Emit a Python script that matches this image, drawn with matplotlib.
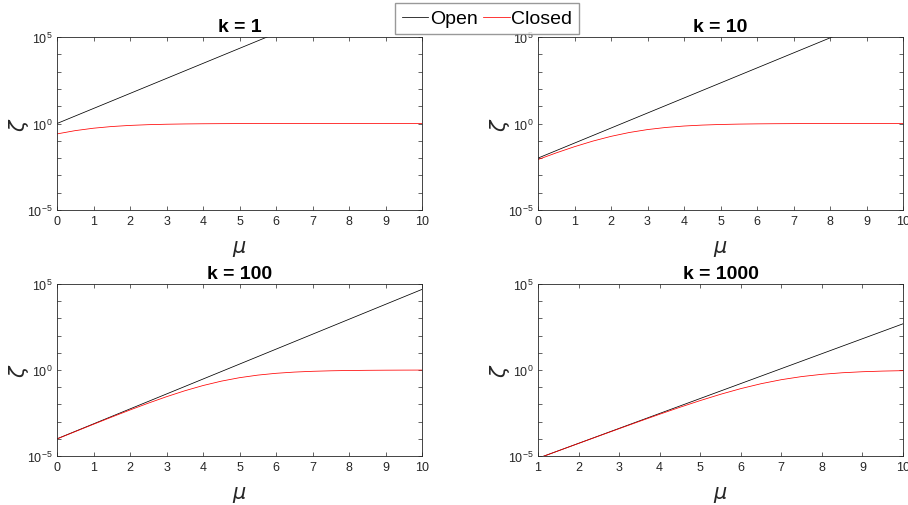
import matplotlib

matplotlib.use("Agg")
import matplotlib.pyplot as plt
from matplotlib.ticker import NullFormatter, FixedLocator

plt.rcParams["font.family"] = ["Liberation Sans", "DejaVu Sans"]

# panel titles and shared sample grids
k_values = [1, 10, 100, 1000]
mu_open = [0, 1, 2, 3, 4, 5, 6, 7, 8, 9, 10]
mu_closed = [0, 0.5, 1, 1.5, 2, 2.5, 3, 3.5, 4, 4.5, 5,
             5.5, 6, 6.5, 7, 7.5, 8, 8.5, 9, 9.5, 10]

# open-loop curves (straight lines on log axis)
open_k1 = [1, 7.389, 54.60, 403.4, 2981, 22026, 1.628e5, 1.203e6, 8.886e6, 6.566e7, 4.852e8]
open_k10 = [1e-2, 7.389e-2, 0.5460, 4.034, 29.81, 220.3, 1628, 1.203e4, 8.886e4, 6.566e5, 4.852e6]
open_k100 = [1e-4, 7.389e-4, 5.460e-3, 4.034e-2, 0.2981, 2.203, 16.28, 120.3, 888.6, 6566, 4.852e4]
open_k1000 = [1e-6, 7.389e-6, 5.460e-5, 4.034e-4, 2.981e-3, 2.203e-2, 0.1628, 1.203, 8.886, 65.66, 485.2]

# closed-loop curves (saturate at 1)
closed_k1 = [0.25, 0.3875, 0.5345, 0.6684, 0.7758, 0.8540, 0.9074, 0.9423, 0.9644, 0.9782,
             0.9867, 0.9919, 0.9951, 0.9970, 0.9982, 0.9989, 0.9993, 0.9996, 0.9998, 0.9999, 0.9999]
closed_k10 = [0.00826, 0.02003, 0.04568, 0.09578, 0.18056, 0.30161, 0.44570, 0.58993, 0.71436, 0.81003,
              0.87773, 0.92302, 0.95221, 0.97060, 0.98200, 0.98903, 0.99333, 0.99596, 0.99754, 0.99850, 0.99909]
closed_k100 = [9.803e-5, 2.631e-4, 7.003e-4, 1.840e-3, 4.734e-3, 0.011794, 0.027980, 0.061887, 0.12472, 0.22442,
               0.35695, 0.50393, 0.64218, 0.75568, 0.83984, 0.89793, 0.93614, 0.96052, 0.97577, 0.98519, 0.99098]
closed_k1000 = [3.0e-7, 1.2e-6, 7.349e-6, 1.9907e-5, 5.380e-5, 1.4487e-4, 3.877e-4, 1.0275e-3, 2.6802e-3, 6.820e-3,
                0.016700, 0.038648, 0.082633, 0.15956, 0.27359, 0.41458, 0.56070, 0.69044, 0.79237, 0.86557, 0.91503]

open_series = [open_k1, open_k10, open_k100, open_k1000]
closed_series = [closed_k1, closed_k10, closed_k100, closed_k1000]
x_starts = [0, 0, 0, 1]

W, H = 908, 506
fig = plt.figure(figsize=(W / 100, H / 100), dpi=100)

# axes boxes in pixels: left, top, right, bottom
boxes = [(57, 38, 422, 211), (538, 38, 903, 211),
         (57, 285, 422, 457), (538, 285, 903, 457)]

tick_col = "#262626"
handles = None
for i, (l, t, r, b) in enumerate(boxes):
    ax = fig.add_axes([l / W, 1 - b / H, (r - l) / W, (b - t) / H])
    h1, = ax.plot(mu_open, open_series[i], color="black", lw=0.55, label="Open")
    h2, = ax.plot(mu_closed, closed_series[i], color="red", lw=0.55, label="Closed")
    handles = [h1, h2]
    ax.set_yscale("log")
    ax.set_ylim(1e-5, 1e5)
    ax.set_xlim(x_starts[i], 10)
    ax.set_xticks(range(x_starts[i], 11))
    ax.yaxis.set_major_locator(FixedLocator([1e-5, 1e0, 1e5]))
    ax.yaxis.set_minor_locator(FixedLocator([10.0 ** e for e in range(-4, 5) if e != 0]))
    ax.yaxis.set_minor_formatter(NullFormatter())
    ax.tick_params(which="both", direction="in", top=True, right=True,
                   labelsize=9, colors=tick_col, length=3, width=0.5)
    for sp in ax.spines.values():
        sp.set_color(tick_col)
        sp.set_linewidth(0.6)
    ax.set_title(f"k = {k_values[i]}", fontsize=14, fontweight="bold", pad=4)
    ax.set_xlabel(r"$\mu$", fontsize=15, color=tick_col, labelpad=8)
    ax.set_ylabel(r"$\zeta$", fontsize=15, color=tick_col, labelpad=-3)

fig.legend(handles, ["Open", "Closed"], loc="upper center", ncol=2,
           bbox_to_anchor=(487 / W, 1 - 4 / H), fontsize=14, frameon=True,
           fancybox=False, edgecolor="#808080", handlelength=1.35,
           handletextpad=0.1, columnspacing=0.3, borderpad=0.35,
           borderaxespad=0)

fig.savefig("out.png", dpi=100)
